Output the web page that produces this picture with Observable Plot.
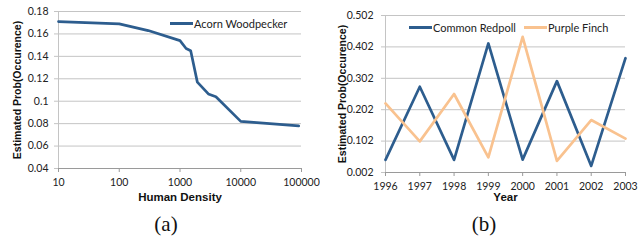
<!DOCTYPE html>
<html>
<head>
<meta charset="utf-8">
<script src="https://cdn.jsdelivr.net/npm/d3@7"></script>
<script src="https://cdn.jsdelivr.net/npm/@observablehq/plot@0.6"></script>
<style>
  body { margin: 0; background: #fff; }
  #wrap { position: relative; width: 641px; height: 241px; background: #fff; overflow: hidden; }
  .panel { position: absolute; top: 0; }
  .cap { position: absolute; font-family: "Liberation Serif", "DejaVu Serif", serif; font-size: 21px; color: #111; transform: translateX(-50%); top: 212px; }
  .leg { position: absolute; font-family: Lato, "Open Sans", sans-serif; font-size: 11px; color: #222; white-space: nowrap; display: flex; align-items: center; }
  .sw { display: inline-block; width: 23px; height: 3px; margin-right: 1px; }
</style>
</head>
<body>
<div id="wrap">
  <div class="panel" id="pa" style="left:0px"></div>
  <div class="panel" id="pb" style="left:320px"></div>
  <div class="leg" style="left:170px;top:17px"><span class="sw" style="background:#2D5D8E"></span>Acorn Woodpecker</div>
  <div class="leg" style="left:409px;top:21px"><span class="sw" style="background:#2D5D8E"></span>Common Redpoll</div>
  <div class="leg" style="left:524px;top:21px"><span class="sw" style="background:#F9C28F"></span>Purple Finch</div>
  <div class="cap" style="left:166px">(a)</div>
  <div class="cap" style="left:484px">(b)</div>
</div>
<script>
// ---- Panel (a) data ----
const density = [10, 100, 300, 1000, 1260, 1500, 1930, 2930, 3900, 10000, 90000];
const woodpecker = [0.171, 0.169, 0.163, 0.154, 0.147, 0.145, 0.117, 0.1065, 0.104, 0.082, 0.078];
const xTicksA = [10, 100, 1000, 10000, 100000];
const yTicksA = [0.04, 0.06, 0.08, 0.1, 0.12, 0.14, 0.16, 0.18];

// ---- Panel (b) data ----
const years = [1996, 1997, 1998, 1999, 2000, 2001, 2002, 2003];
const redpoll = [0.042, 0.275, 0.042, 0.413, 0.043, 0.293, 0.023, 0.366];
const finch = [0.222, 0.101, 0.252, 0.050, 0.434, 0.039, 0.169, 0.110];
const yTicksB = [0.002, 0.102, 0.202, 0.302, 0.402, 0.502];

const blue = "#2D5D8E";
const orange = "#F9C28F";
const grid = "#C4C4C4";
const tickFont = "Lato, 'Open Sans', sans-serif";
const labelFont = "'Liberation Sans', Arial, sans-serif";
const yLabel = "Estimated Prob(Occurence)";

const rowsA = density.map((d, i) => ({density: d, p: woodpecker[i]}));
const rowsB = years.flatMap((y, i) => [
  {year: y, p: redpoll[i], s: "Common Redpoll"},
  {year: y, p: finch[i], s: "Purple Finch"}
]);

const chartA = Plot.plot({
  width: 320, height: 205,
  marginLeft: 58, marginRight: 19, marginTop: 11, marginBottom: 37,
  style: {fontFamily: tickFont, fontSize: "10.5px", color: "#222", background: "#fff"},
  x: {type: "log", domain: [10, 100000]},
  y: {domain: [0.04, 0.18]},
  marks: [
    Plot.gridY(yTicksA, {stroke: grid, strokeOpacity: 1}),
    Plot.ruleX([10], {stroke: grid}),
    Plot.ruleY([0.04], {stroke: "#9a9a9a"}),
    Plot.axisY(yTicksA, {tickSize: 4, tickPadding: 6, stroke: grid, color: "#222", tickFormat: d => String(+d.toFixed(2)), label: null}),
    Plot.axisX(xTicksA, {tickSize: 4, tickPadding: 6, stroke: "#9a9a9a", color: "#222", tickFormat: d => String(d), label: null}),
    Plot.line(rowsA, {x: "density", y: "p", stroke: blue, strokeWidth: 2.7}),
    Plot.text([yLabel], {text: d => d, frameAnchor: "left", textAnchor: "middle", lineAnchor: "middle", rotate: -90, dx: -41, fontWeight: "bold", fontSize: 10.5, fontFamily: labelFont, fill: "#111"}),
    Plot.text(["Human Density"], {text: d => d, frameAnchor: "bottom", textAnchor: "middle", lineAnchor: "middle", dy: 29, fontWeight: "bold", fontSize: 11.5, fontFamily: labelFont, fill: "#111"})
  ]
});
document.getElementById("pa").appendChild(chartA);

const chartB = Plot.plot({
  width: 321, height: 205,
  marginLeft: 65, marginRight: 16, marginTop: 15, marginBottom: 33,
  style: {fontFamily: tickFont, fontSize: "10.5px", color: "#222", background: "#fff"},
  x: {domain: [1996, 2003]},
  y: {domain: [0.002, 0.502]},
  color: {domain: ["Common Redpoll", "Purple Finch"], range: [blue, orange]},
  marks: [
    Plot.gridY(yTicksB, {stroke: grid, strokeOpacity: 1}),
    Plot.ruleX([1996], {stroke: grid}),
    Plot.ruleY([0.002], {stroke: "#9a9a9a"}),
    Plot.axisY(yTicksB, {tickSize: 4, tickPadding: 8, stroke: grid, color: "#222", tickFormat: d => d.toFixed(3), label: null}),
    Plot.axisX(years, {tickSize: 4, tickPadding: 6, stroke: "#9a9a9a", color: "#222", tickFormat: d => String(d), label: null}),
    Plot.line(rowsB, {x: "year", y: "p", z: "s", stroke: "s", strokeWidth: 2.7}),
    Plot.text([yLabel], {text: d => d, frameAnchor: "left", textAnchor: "middle", lineAnchor: "middle", rotate: -90, dx: -43, fontWeight: "bold", fontSize: 10.5, fontFamily: labelFont, fill: "#111"}),
    Plot.text(["Year"], {text: d => d, frameAnchor: "bottom", textAnchor: "middle", lineAnchor: "middle", dy: 25, fontWeight: "bold", fontSize: 11.5, fontFamily: labelFont, fill: "#111"})
  ]
});
document.getElementById("pb").appendChild(chartB);
</script>
</body>
</html>
